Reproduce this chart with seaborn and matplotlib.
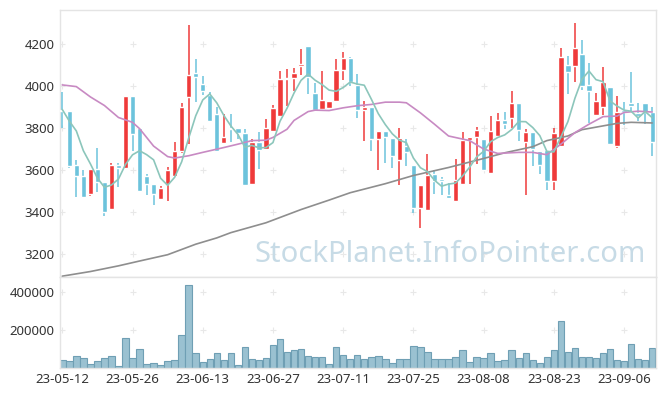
import matplotlib
matplotlib.use("Agg")
import matplotlib.pyplot as plt
import numpy as np
import pandas as pd
import seaborn as sns

# Daily candles (red = up, blue = down)
opens = [3886, 3881, 3622, 3571, 3486, 3604, 3541, 3411, 3622, 3610,
         3952, 3800, 3568, 3533, 3459, 3530, 3568, 3687, 3944, 4059,
         4007, 3954, 3863, 3726, 3800, 3797, 3772, 3530, 3729, 3699,
         3784, 3855, 4029, 4035, 4093, 4187, 3965, 3889, 3894, 3928,
         4074, 4132, 4001, 3886, 3900, 3745, 3784, 3750, 3648, 3714,
         3620, 3416, 3408, 3580, 3554, 3481, 3452, 3530, 3742, 3756,
         3748, 3586, 3761, 3838, 3844, 3918, 3732, 3779, 3690, 3693,
         3546, 3710, 4098, 4095, 4150, 4004, 3860, 3897, 3991, 3714,
         3886, 3917, 3870, 3917, 3875]
highs = [3969, 3881, 3646, 3599, 3604, 3703, 3541, 3632, 3630, 3952,
         3952, 3800, 3580, 3533, 3520, 3612, 3729, 3918, 4289, 4126,
         4046, 3969, 3897, 3863, 3866, 3797, 3792, 3745, 3781, 3839,
         3907, 4070, 4079, 4082, 4173, 4187, 4012, 4070, 3928, 4125,
         4158, 4137, 4054, 3928, 3900, 3784, 3784, 3750, 3800, 3748,
         3620, 3526, 3672, 3596, 3565, 3538, 3651, 3781, 3756, 3803,
         3748, 3855, 3871, 3875, 3972, 3918, 3792, 3779, 3690, 3693,
         3800, 4181, 4140, 4300, 4216, 4106, 3965, 4090, 3991, 3949,
         3922, 4063, 3917, 3917, 3897]
lows = [3800, 3608, 3470, 3467, 3473, 3494, 3381, 3408, 3517, 3610,
        3687, 3492, 3478, 3431, 3455, 3452, 3568, 3680, 3721, 3922,
        3954, 3831, 3687, 3726, 3729, 3745, 3521, 3530, 3604, 3699,
        3784, 3855, 3902, 3976, 4051, 3960, 3886, 3878, 3890, 3928,
        4027, 3998, 3847, 3737, 3690, 3596, 3630, 3608, 3525, 3619,
        3392, 3322, 3408, 3483, 3478, 3467, 3447, 3530, 3530, 3627,
        3596, 3586, 3761, 3795, 3797, 3737, 3478, 3619, 3580, 3502,
        3502, 3710, 3960, 4016, 3980, 3823, 3860, 3860, 3721, 3703,
        3812, 3878, 3831, 3816, 3667]
closes = [3878, 3619, 3568, 3469, 3604, 3539, 3400, 3622, 3610, 3952,
          3768, 3497, 3530, 3486, 3514, 3599, 3688, 3899, 4051, 4043,
          3976, 3831, 3687, 3753, 3794, 3775, 3525, 3729, 3695, 3800,
          3894, 4032, 4038, 4059, 4101, 4043, 3886, 3933, 3928, 4074,
          4132, 4016, 3886, 3900, 3745, 3784, 3756, 3666, 3750, 3685,
          3418, 3526, 3572, 3546, 3544, 3467, 3552, 3740, 3753, 3790,
          3599, 3783, 3838, 3816, 3918, 3789, 3779, 3698, 3624, 3544,
          3776, 4134, 4063, 4181, 3996, 3972, 3928, 4016, 3721, 3875,
          3875, 3902, 3855, 3875, 3729]
volumes = [40000, 34000, 61000, 54000, 18000, 34000, 54000, 65000, 11000, 157000,
           54000, 97000, 22000, 27000, 16000, 34000, 43000, 173000, 438000, 76000,
           29000, 49000, 76000, 43000, 76000, 16000, 108000, 49000, 43000, 54000,
           119000, 151000, 86000, 92000, 97000, 65000, 59000, 59000, 22000, 108000,
           70000, 49000, 70000, 49000, 59000, 65000, 49000, 27000, 49000, 49000,
           113000, 108000, 86000, 49000, 49000, 49000, 59000, 92000, 32000, 59000,
           54000, 76000, 38000, 43000, 92000, 54000, 76000, 43000, 27000, 59000,
           92000, 249000, 86000, 103000, 59000, 59000, 54000, 76000, 97000, 43000,
           38000, 124000, 49000, 43000, 103000]

# closes of the four sessions before the window (for the 5-day average)
prior_closes = [3894, 3803, 3939, 3916]

# 20-day and long moving averages, read at a few sessions
ma20_idx = [0, 2, 4, 6, 8, 10, 11, 13, 15, 16, 18, 20, 23, 25, 27, 29, 30, 32,
            33, 35, 36, 38, 40, 42, 44, 46, 48, 49, 51, 53, 55, 58, 60, 62, 65,
            67, 69, 71, 73, 75, 77, 79, 80, 82, 84]
ma20_val = [4003, 3995, 3946, 3905, 3848, 3825, 3795, 3712, 3662, 3655, 3666,
            3682, 3705, 3721, 3738, 3740, 3753, 3792, 3834, 3876, 3883, 3881,
            3894, 3904, 3910, 3921, 3921, 3918, 3870, 3816, 3760, 3738, 3698,
            3677, 3682, 3682, 3671, 3721, 3776, 3816, 3852, 3855, 3872, 3878, 3874]
malong_idx = [0, 4, 8, 11, 15, 19, 22, 24, 29, 34, 38, 41, 46, 50, 55, 60, 63,
              67, 69, 72, 74, 77, 79, 81, 84]
malong_val = [3093, 3115, 3142, 3165, 3195, 3245, 3275, 3300, 3347, 3410, 3455,
              3490, 3533, 3572, 3610, 3653, 3680, 3709, 3738, 3760, 3790, 3808,
              3820, 3825, 3822]

tick_idx = [0, 10, 20, 30, 40, 50, 60, 70, 80]
tick_labels = ["23-05-12", "23-05-26", "23-06-13", "23-06-27", "23-07-11",
               "23-07-25", "23-08-08", "23-08-23", "23-09-06"]
price_ticks = [3200, 3400, 3600, 3800, 4000, 4200]
vol_ticks = [200000, 400000]

UP, DOWN = "#ef3a3a", "#6cc3dc"

sns.set_theme(style="white")
plt.rcParams["font.family"] = ["Noto Sans", "DejaVu Sans"]

df = pd.DataFrame({"open": opens, "high": highs, "low": lows,
                   "close": closes, "volume": volumes})
df["day"] = np.arange(len(df))
all_close = pd.Series(prior_closes + closes)
df["ma5"] = all_close.rolling(5).mean().iloc[len(prior_closes):].values

fig = plt.figure(figsize=(6.65, 3.96), dpi=100)
ax = fig.add_axes([0.0905, 0.300, 0.8955, 0.675])
axv = fig.add_axes([0.0905, 0.071, 0.8955, 0.229])

# candles
up = df["close"] >= df["open"]
colors = np.where(up, UP, DOWN)
body_lo = df[["open", "close"]].min(axis=1)
body_h = (df["close"] - df["open"]).abs().clip(lower=4)
ax.vlines(df["day"], df["low"], df["high"], colors=colors, linewidth=1.1, zorder=3)
ax.bar(df["day"], body_h, bottom=body_lo, width=0.76, color=colors, zorder=4)

# moving averages
sns.lineplot(x=malong_idx, y=malong_val, ax=ax, color="#8e8e8e", linewidth=1.2, zorder=5)
sns.lineplot(x=ma20_idx, y=ma20_val, ax=ax, color="#c88ac3", linewidth=1.2, zorder=5)
sns.lineplot(data=df, x="day", y="ma5", ax=ax, color="#8cc6bb", linewidth=1.2, zorder=5)

ax.text(0.655, 0.085, "StockPlanet.InfoPointer.com", transform=ax.transAxes,
        ha="center", va="center", fontsize=21, color="#c7dbe6", zorder=1)

# volume
sns.barplot(x=df["day"], y=df["volume"], ax=axv, color="#9ac1d1",
            edgecolor="#6f9fb4", linewidth=0.8, width=0.92, saturation=1)

for a in (ax, axv):
    a.set_xlim(-0.3, 84.5)
    a.set_xlabel("")
    a.set_ylabel("")
    a.tick_params(length=0, labelsize=9.5, labelcolor="#333333", pad=4)
    for s in a.spines.values():
        s.set_color("#e4e4e4")
        s.set_linewidth(1)

ax.set_ylim(3088, 4360)
ax.set_yticks(price_ticks)
ax.set_xticks(tick_idx)
ax.tick_params(axis="x", labelbottom=False)
gx, gy = np.meshgrid(tick_idx, price_ticks)
ax.scatter(gx.ravel(), gy.ravel(), marker="+", s=14, color="#e8e8e8", linewidths=0.8, zorder=0)

axv.set_ylim(0, 478000)
axv.set_yticks(vol_ticks)
axv.set_yticklabels([str(v) for v in vol_ticks])
axv.set_xticks(tick_idx)
axv.set_xticklabels(tick_labels)
gx, gy = np.meshgrid(tick_idx, vol_ticks)
axv.scatter(gx.ravel(), gy.ravel(), marker="+", s=14, color="#e8e8e8", linewidths=0.8, zorder=0)

fig.savefig("out.png", dpi=100, facecolor="white")
